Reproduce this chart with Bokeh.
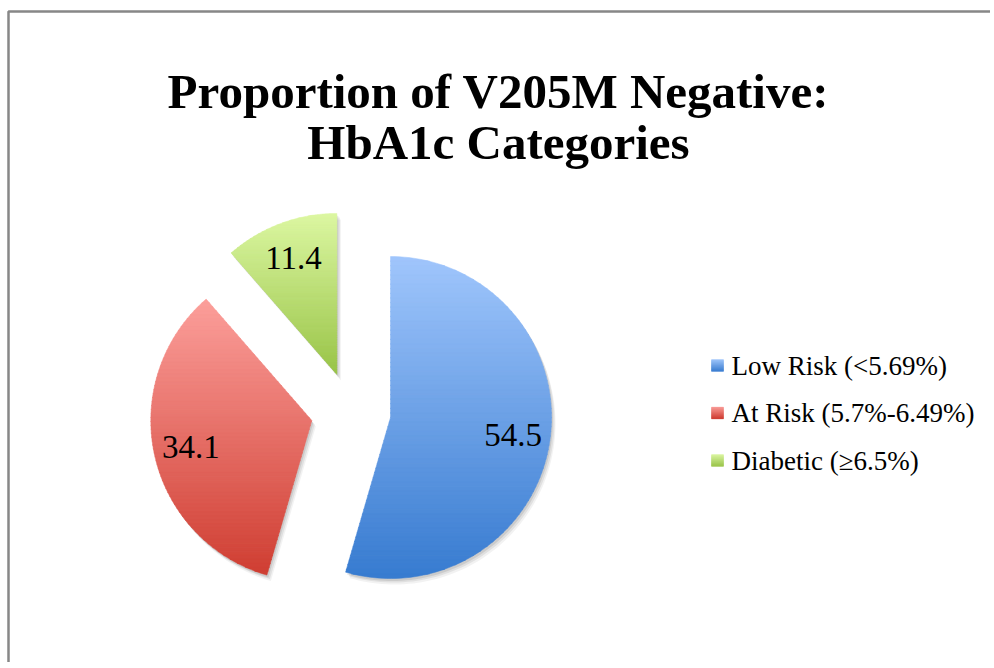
import numpy as np
from bokeh.plotting import figure
from bokeh.models import Range1d
from bokeh.core.properties import value
from bokeh.embed import file_html
from bokeh.resources import INLINE

# ---------------- data ----------------
title_lines = ["Proportion of V205M Negative:", "HbA1c Categories"]
categories = ["Low Risk (<5.69%)", "At Risk (5.7%-6.49%)", "Diabetic (\u22656.5%)"]
values = [54.5, 34.1, 11.4]
value_labels = ["54.5", "34.1", "11.4"]
top_colors = ["#a0c6fc", "#fc9f9b", "#dcf7a2"]
bottom_colors = ["#377bd0", "#cf3e32", "#99c448"]

# ---------------- layout (screen-pixel data space) ----------------
W, H = 990, 662
CX, CY = 350.4, 411.4      # pie centre
R = 161.0                  # radius
EXPLODE = 40.0             # explosion distance
START = 90.0               # first slice starts at 12 o'clock, clockwise
FONT = "Liberation Serif"

p = figure(width=W, height=H, output_backend="svg", toolbar_location=None,
           x_range=Range1d(0, W), y_range=Range1d(H, 0),
           x_axis_type=None, y_axis_type=None, min_border=0)
p.outline_line_color = None
p.grid.visible = False
p.background_fill_color = "white"
p.border_fill_color = "white"


def hex2rgb(h):
    h = h.lstrip("#")
    return np.array([int(h[i:i + 2], 16) for i in (0, 2, 4)], dtype=float)


def lerp(c0, c1, t):
    c = hex2rgb(c0) * (1 - t) + hex2rgb(c1) * t
    return "#%02x%02x%02x" % tuple(int(round(v)) for v in c)


def clip_half(poly, yc, keep_below):
    out = []
    n = len(poly)
    def inside(pt):
        return pt[1] >= yc if keep_below else pt[1] <= yc
    for i in range(n):
        a = poly[i]
        b = poly[(i + 1) % n]
        ia, ib = inside(a), inside(b)
        if ia:
            out.append(a)
        if ia != ib:
            t = (yc - a[1]) / (b[1] - a[1])
            out.append((a[0] + t * (b[0] - a[0]), yc))
    return out


def gradient_bands(poly, c_top, c_bot, nb=70):
    ys = [q[1] for q in poly]
    y0, y1 = min(ys), max(ys)
    xs_out, ys_out, cols = [], [], []
    edges = np.linspace(y0, y1, nb + 1)
    for k in range(nb):
        a, b = edges[k] - 0.3, edges[k + 1] + 0.3
        c = clip_half(poly, a, True)
        if len(c) < 3:
            continue
        c = clip_half(c, b, False)
        if len(c) < 3:
            continue
        xs_out.append([q[0] for q in c])
        ys_out.append([q[1] for q in c])
        cols.append(lerp(c_top, c_bot, (k + 0.5) / nb))
    return xs_out, ys_out, cols


# ---------------- frame border ----------------
p.line([8, 8, W + 10], [H + 10, 11, 11], line_color="#878787", line_width=2.5)

# ---------------- title ----------------
p.text(x=[498, 498], y=[91, 142], text=title_lines, text_align="center",
       text_baseline="alphabetic", text_font=value(FONT), text_font_style="bold",
       text_font_size="49px", text_color="black")

# ---------------- pie ----------------
total = float(sum(values))
polys, label_pos = [], []
cum = 0.0
for v in values:
    a0 = START - cum / total * 360.0
    a1 = START - (cum + v) / total * 360.0
    cum += v
    mid = np.radians((a0 + a1) / 2)
    vx = CX + EXPLODE * np.cos(mid)
    vy = CY - EXPLODE * np.sin(mid)
    th = np.radians(np.linspace(a0, a1, 120))
    poly = [(vx, vy)] + [(vx + R * np.cos(t), vy - R * np.sin(t)) for t in th]
    polys.append(poly)
    label_pos.append((vx + 0.77 * R * np.cos(mid), vy - 0.77 * R * np.sin(mid)))

# soft shadows
for dx, dy, al in [(4, 6, 0.05), (3, 4, 0.07), (1.5, 2.5, 0.09)]:
    p.patches([[q[0] + dx for q in pl] for pl in polys],
              [[q[1] + dy for q in pl] for pl in polys],
              fill_color="black", fill_alpha=al, line_color=None)

for pl, ct, cb in zip(polys, top_colors, bottom_colors):
    bx, by, bc = gradient_bands(pl, ct, cb)
    p.patches(bx, by, fill_color=bc, line_color=bc, line_width=0.5)

p.text(x=[q[0] for q in label_pos], y=[q[1] for q in label_pos], text=value_labels,
       text_align="center", text_baseline="middle", text_font=value(FONT),
       text_font_size="33px", text_color="black")

# ---------------- legend ----------------
LX, LY0, LDY, SQ = 717, 365, 47.5, 12
for i, (cat, ct, cb) in enumerate(zip(categories, top_colors, bottom_colors)):
    yy = LY0 + i * LDY
    sq = [(LX - SQ / 2, yy - SQ / 2), (LX + SQ / 2, yy - SQ / 2),
          (LX + SQ / 2, yy + SQ / 2), (LX - SQ / 2, yy + SQ / 2)]
    bx, by, bc = gradient_bands(sq, ct, cb, nb=12)
    p.patches(bx, by, fill_color=bc, line_color=bc, line_width=0.3)
p.text(x=[LX + 14] * 3, y=[LY0 + i * LDY for i in range(3)], text=categories,
       text_align="left", text_baseline="middle", text_font=value(FONT),
       text_font_size="27px", text_color="black")

open("out.html", "w").write(file_html(p, INLINE))
